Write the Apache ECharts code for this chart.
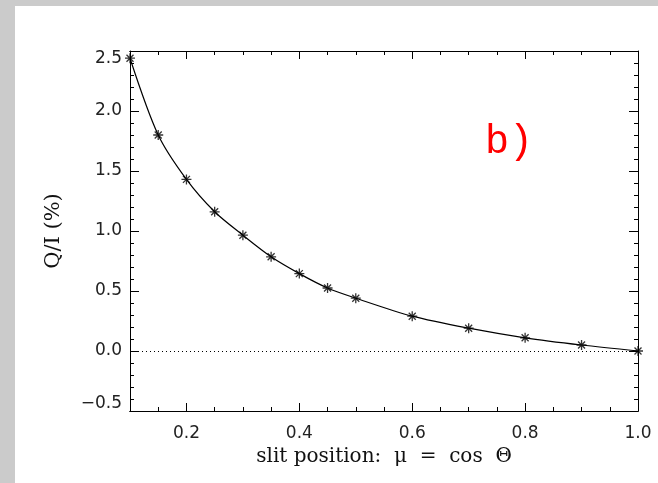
<!DOCTYPE html>
<html>
<head>
<meta charset="utf-8">
<script src="https://cdn.jsdelivr.net/npm/echarts@6/dist/echarts.min.js"></script>
<style>
    html, body { margin: 0; padding: 0; background: #cbcbcb; }
    #main { position: absolute; left: 15px; top: 6px; width: 643px; height: 477px; background: #fff; }
</style>
</head>
<body>
<div id="main"></div>
<script>
    // data
    var mu = [0.10, 0.15, 0.20, 0.25, 0.30, 0.35, 0.40, 0.45, 0.50, 0.60, 0.70, 0.80, 0.90, 1.00];
    var qi = [2.44, 1.80, 1.43, 1.16, 0.965, 0.785, 0.645, 0.525, 0.44, 0.29, 0.19, 0.11, 0.05, 0.0];

    // tick positions on x (every 0.05) and the ones that get a label
    var xTicks = ['0.10', '0.15', '0.20', '0.25', '0.30', '0.35', '0.40', '0.45', '0.50', '0.55',
        '0.60', '0.65', '0.70', '0.75', '0.80', '0.85', '0.90', '0.95', '1.00'];
    var xLabels = ['0.20', '0.40', '0.60', '0.80', '1.00'];
    var yLabels = ['\u22120.5', '0.0', '0.5', '1.0', '1.5', '2.0', '2.5'];

    var points = [];
    for (var i = 0; i < mu.length; i++) {
        points.push([mu[i], qi[i]]);
    }

    var isMajor = function (index, value) {
        return xLabels.indexOf(value) > -1;
    };

    // x ticks come from category axes laid over the value axis
    function tickX(pos, major, labels) {
        return {
            type: 'category', position: pos, data: xTicks.slice(), boundaryGap: false,
            axisLine: { show: true, onZero: false, lineStyle: { color: '#000' } },
            axisTick: {
                show: true, inside: true, length: major ? 8 : 4,
                interval: major ? isMajor : 0, lineStyle: { color: '#000' }
            },
            axisLabel: {
                show: labels, interval: isMajor, margin: 14,
                fontFamily: 'DejaVu Sans', fontSize: 17, color: '#222',
                formatter: function (v) { return parseFloat(v).toFixed(1); }
            },
            splitLine: { show: false }
        };
    }
    function valueX(pos) {
        return {
            type: 'value', position: pos, min: 0.1, max: 1.0,
            axisLine: { show: true, onZero: false },
            axisTick: { show: false },
            axisLabel: { show: false },
            splitLine: { show: false }
        };
    }
    function valueY(pos, labels) {
        return {
            type: 'value', position: pos, min: -0.5, max: 2.5, interval: 0.5,
            axisLine: { show: true, onZero: false, lineStyle: { color: '#000' } },
            axisTick: { show: true, inside: true, length: 9, lineStyle: { color: '#000' } },
            minorTick: { show: true, splitNumber: 5, length: 4, lineStyle: { color: '#000' } },
            axisLabel: {
                show: labels, margin: 8,
                fontFamily: 'DejaVu Sans', fontSize: 17, color: '#222',
                formatter: function (v) {
                    var idx = Math.round((v + 0.5) / 0.5);
                    var s = yLabels[idx];
                    if (idx === yLabels.length - 1) return '{t|' + s + '}';
                    if (idx === 0) return '{b|' + s + '}';
                    return s;
                },
                rich: {
                    t: { fontFamily: 'DejaVu Sans', fontSize: 17, color: '#222', padding: [16, 0, 0, 0] },
                    b: { fontFamily: 'DejaVu Sans', fontSize: 17, color: '#222', padding: [0, 0, 14, 0] }
                }
            },
            splitLine: { show: false }
        };
    }

    var xMajorBottom = tickX('bottom', true, true);
    xMajorBottom.name = 'slit position:  \u03bc  =  cos  \u0398';
    xMajorBottom.nameLocation = 'middle';
    xMajorBottom.nameGap = 29;
    xMajorBottom.nameTextStyle = { fontFamily: 'DejaVu Serif', fontSize: 20, color: '#111' };

    var yLeft = valueY('left', true);
    yLeft.name = 'Q/I (%)';
    yLeft.nameLocation = 'middle';
    yLeft.nameRotate = 90;
    yLeft.nameGap = 66;
    yLeft.nameTextStyle = { fontFamily: 'DejaVu Serif', fontSize: 21, color: '#111' };

    var chart = echarts.init(document.getElementById('main'));
    var option = {
        animation: false,
        grid: { left: 115, right: 20, top: 45, bottom: 72 },
        xAxis: [valueX('bottom'), tickX('bottom', false, false), xMajorBottom,
            valueX('top'), tickX('top', false, false), tickX('top', true, false)],
        yAxis: [yLeft, valueY('right', false)],
        graphic: [{
            type: 'text', left: 470, top: 116,
            style: { text: 'b)', fill: '#ff0000', fontFamily: 'Liberation Mono', fontSize: 40 }
        }],
        series: [
            {
                type: 'line', xAxisIndex: 0, yAxisIndex: 0,
                data: points, smooth: 0.3, showSymbol: false,
                lineStyle: { color: '#000', width: 1.2 },
                markLine: {
                    silent: true, symbol: 'none', label: { show: false },
                    lineStyle: { color: '#000', width: 1, type: [1, 3] },
                    data: [{ yAxis: 0 }]
                }
            },
            {
                type: 'scatter', xAxisIndex: 0, yAxisIndex: 0,
                data: points, symbolSize: 10,
                symbol: 'path://M0,5L10,5M5,0L5,10M1.5,1.5L8.5,8.5M8.5,1.5L1.5,8.5',
                itemStyle: { color: 'none', borderColor: '#000', borderWidth: 1.3 }
            }
        ]
    };
    chart.setOption(option);
</script>
</body>
</html>
